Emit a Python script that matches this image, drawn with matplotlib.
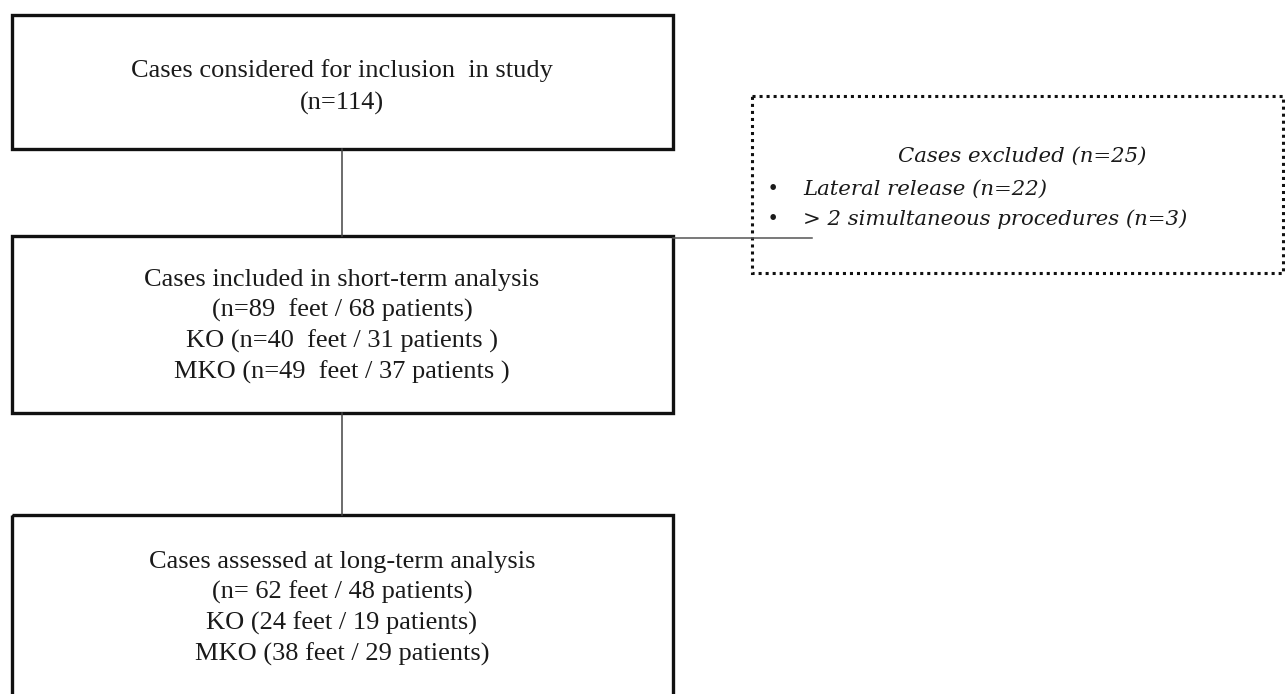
import matplotlib
matplotlib.use("Agg")
import matplotlib.pyplot as plt
from matplotlib.patches import Rectangle

W, H = 1285, 694

# ── box contents ──────────────────────────────────────────────────────────
box1_lines = ["Cases considered for inclusion  in study", "(n=114)"]
box2_lines = ["Cases included in short-term analysis",
              "(n=89  feet / 68 patients)",
              "KO (n=40  feet / 31 patients )",
              "MKO (n=49  feet / 37 patients )"]
box3_lines = ["Cases assessed at long-term analysis",
              "(n= 62 feet / 48 patients)",
              "KO (24 feet / 19 patients)",
              "MKO (38 feet / 29 patients)"]
excl_title = "Cases excluded (n=25)"
excl_items = ["Lateral release (n=22)", "> 2 simultaneous procedures (n=3)"]

SERIF = "Liberation Serif"
ITAL = "DejaVu Serif"
FS = 19
FS_I = 15.3
TXT = "#1a1a1a"

fig = plt.figure(figsize=(W / 100, H / 100), dpi=100)
ax = fig.add_axes([0, 0, 1, 1])
ax.set_xlim(0, W)
ax.set_ylim(H, 0)
ax.axis("off")


def box(x0, y0, x1, y1, **kw):
    ax.add_patch(Rectangle((x0, y0), x1 - x0, y1 - y0, fill=False, **kw))


def lines_at(x, ys, texts):
    for y, t in zip(ys, texts):
        ax.text(x, y, t, ha="center", va="baseline", family=SERIF,
                fontsize=FS, color=TXT)


# solid boxes
box(12, 15, 673, 149, lw=2.4, edgecolor="#111111")
box(12, 236, 673, 413, lw=2.4, edgecolor="#111111")
box(12, 515, 673, 700, lw=2.4, edgecolor="#111111")

# connectors
ax.plot([342, 342], [149, 236], color="#444444", lw=1.1)
ax.plot([342, 342], [413, 515], color="#444444", lw=1.1)
ax.plot([673, 812], [238, 238], color="#555555", lw=1.1)

# dotted exclusion box
box(752, 96, 1283, 273, lw=2.2, edgecolor="#111111", linestyle=(0, (1, 1.3)))

lines_at(342, [77, 110], box1_lines)
lines_at(342, [286, 317, 348, 379], box2_lines)
lines_at(342, [568, 599, 630, 661], box3_lines)

ax.text(1022, 162, excl_title, ha="center", va="baseline", family=ITAL,
        style="italic", fontsize=FS_I, color=TXT)
for y, t in zip([195, 225], excl_items):
    ax.text(773, y, "\u2022", ha="center", va="baseline", family=SERIF,
            fontsize=17, color=TXT)
    ax.text(803, y, t, ha="left", va="baseline", family=ITAL,
            style="italic", fontsize=FS_I, color=TXT)

fig.savefig("out.png", dpi=100, facecolor="white")
